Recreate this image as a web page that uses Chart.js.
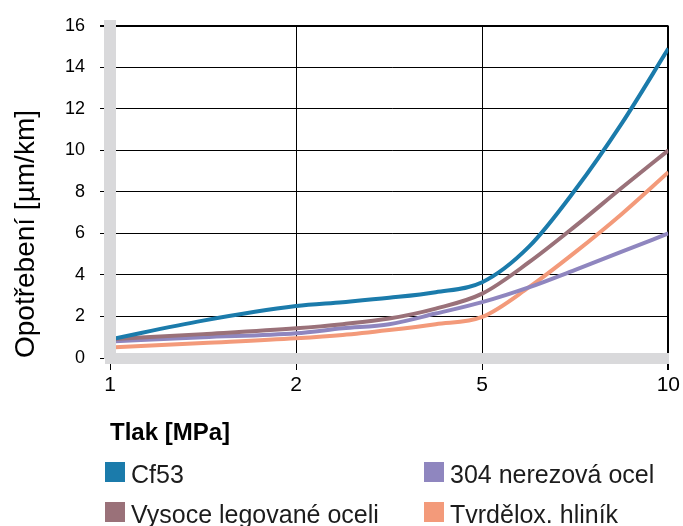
<!DOCTYPE html>
<html>
<head>
<meta charset="utf-8">
<script src="https://cdn.jsdelivr.net/npm/chart.js@4/dist/chart.umd.min.js"></script>
<style>
  body { margin: 0; background: #fff; font-family: "Liberation Sans", Arial, sans-serif; }
  #wrap { position: relative; width: 683px; height: 526px; }
  #chart { position: absolute; left: 0; top: 0; }
  .sq { position: absolute; width: 20px; height: 20px; }
  .lbl { position: absolute; font-size: 25px; line-height: 20px; color: #1c1c1c; white-space: nowrap; }
</style>
</head>
<body>
<div id="wrap">
  <canvas id="chart" width="683" height="526"></canvas>
  <div id="legend"></div>
</div>
<script>
// osa x: tlak (kategorie rozmístěné rovnoměrně)
const pressureLabels = ['1', '2', '5', '10'];
// pozice odečtených bodů (index kategorie, mezihodnoty)
const xPositions = [0, 0.5, 1, 1.25, 1.5, 1.75, 2, 2.25, 2.5, 2.75, 3];

const cf53        = [0.9, 1.8, 2.5, 2.69, 2.9, 3.17, 3.65, 5.35, 8.1, 11.3, 14.9];
const highAlloy   = [0.9, 1.15, 1.43, 1.63, 1.9, 2.38, 3.1, 4.6, 6.35, 8.2, 10.0];
const stainless   = [0.8, 1.0, 1.19, 1.43, 1.63, 2.14, 2.69, 3.4, 4.25, 5.12, 6.0];
const anodizedAl  = [0.5, 0.72, 0.95, 1.11, 1.35, 1.63, 1.98, 3.4, 5.1, 6.94, 8.95];

const yMin = 0, yMax = 16, yStep = 2;

const FONT = '"Liberation Sans", Arial, sans-serif';

function pts(values) {
  return values.map((v, i) => ({ x: xPositions[i], y: v }));
}

// kreslí se v tomto pořadí (první navrchu), legenda je zvlášť v HTML
const series = [
  { name: 'Cf53', data: cf53, color: '#1b7bab' },
  { name: 'Vysoce legované oceli', data: highAlloy, color: '#9a7179' },
  { name: '304 nerezová ocel', data: stainless, color: '#8f86bf' },
  { name: 'Tvrdělox. hliník', data: anodizedAl, color: '#f39a7a' }
];

const ctx = document.getElementById('chart').getContext('2d');
new Chart(ctx, {
  type: 'line',
  data: {
    datasets: series.map(s => ({
      label: s.name,
      data: pts(s.data),
      borderColor: s.color,
      backgroundColor: s.color,
      borderWidth: 4,
      pointRadius: 0,
      cubicInterpolationMode: 'monotone'
    }))
  },
  options: {
    responsive: false,
    animation: false,
    layout: { padding: { top: 18, right: 14, bottom: 68, left: 0 } },
    plugins: { legend: { display: false }, tooltip: { enabled: false } },
    scales: {
      x: {
        type: 'linear',
        min: 0,
        max: pressureLabels.length - 1,
        afterFit: s => { s.height = 100; },
        afterBuildTicks: s => { s.ticks = pressureLabels.map((_, i) => ({ value: i })); },
        ticks: {
          color: '#000',
          font: { family: FONT, size: 21 },
          padding: 3,
          callback: v => pressureLabels[v]
        },
        grid: {
          color: c => c.index === 0 ? 'rgba(0,0,0,0)' : '#000',
          lineWidth: c => c.index === pressureLabels.length - 1 ? 2 : 1,
          tickColor: '#000',
          tickLength: 12
        },
        border: { display: true, color: '#d9d9db', width: 11, z: 1 },
        title: {
          display: true,
          text: 'Tlak [MPa]',
          align: 'start',
          color: '#000',
          font: { family: FONT, size: 24, weight: 'bold' },
          padding: { top: 0, bottom: 10 }
        }
      },
      y: {
        min: yMin,
        max: yMax,
        afterFit: s => { s.width = 110; },
        ticks: {
          stepSize: yStep,
          color: '#000',
          font: { family: FONT, size: 18 },
          padding: 15
        },
        grid: {
          color: c => c.index === 0 ? 'rgba(0,0,0,0)' : '#000',
          lineWidth: c => c.tick && c.tick.value === yMax ? 2 : 1,
          tickColor: '#000',
          tickLength: 10
        },
        border: { display: true, color: '#d9d9db', width: 12, z: 1 },
        title: {
          display: true,
          text: 'Opotřebení [µm/km]',
          align: 'start',
          color: '#000',
          font: { family: FONT, size: 28 },
          padding: { top: 9, bottom: 0 }
        }
      }
    }
  }
});

// legenda ve dvou sloupcích
const legendPos = [
  { name: 'Cf53', color: '#1b7bab', x: 105, y: 462 },
  { name: '304 nerezová ocel', color: '#8f86bf', x: 424, y: 462 },
  { name: 'Vysoce legované oceli', color: '#9a7179', x: 105, y: 502 },
  { name: 'Tvrdělox. hliník', color: '#f39a7a', x: 424, y: 502 }
];
const legend = document.getElementById('legend');
legendPos.forEach(it => {
  const sq = document.createElement('div');
  sq.className = 'sq';
  sq.style.left = it.x + 'px';
  sq.style.top = it.y + 'px';
  sq.style.background = it.color;
  legend.appendChild(sq);
  const t = document.createElement('div');
  t.className = 'lbl';
  t.style.left = (it.x + 26) + 'px';
  t.style.top = (it.y + 2) + 'px';
  t.textContent = it.name;
  legend.appendChild(t);
});
</script>
</body>
</html>
